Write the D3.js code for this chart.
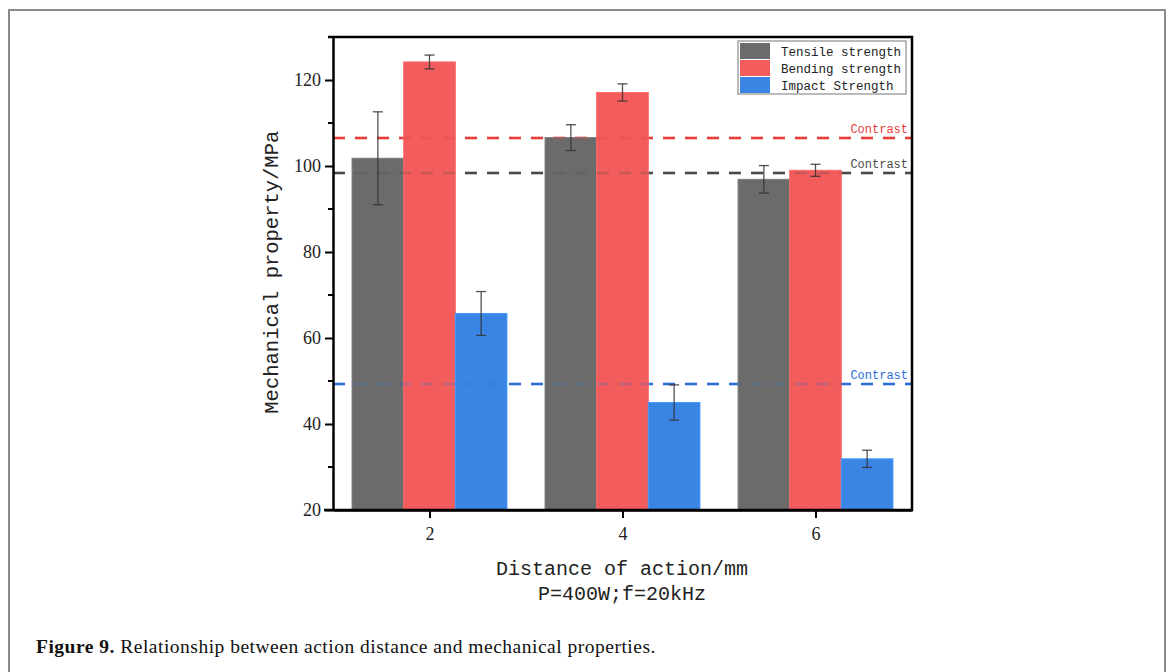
<!DOCTYPE html>
<html>
<head>
<meta charset="utf-8">
<script src="https://cdn.jsdelivr.net/npm/d3@7"></script>
<style>
  body { margin: 0; background: #fff; }
  svg { display: block; }
</style>
</head>
<body>
<div id="chart"></div>
<script>
// data
var distances = [2, 4, 6];
var seriesNames = ["Tensile strength", "Bending strength", "Impact Strength"];
var tensile = [101.8, 106.6, 96.9];
var tensileErr = [10.8, 3.0, 3.2];
var bending = [124.2, 117.1, 99.0];
var bendingErr = [1.6, 2.0, 1.4];
var impact = [65.7, 45.0, 31.9];
var impactErr = [5.1, 4.1, 2.0];
var contrastValues = [106.5, 98.4, 49.3];
var contrastColors = ["#e83c3c", "#4a4a4a", "#2a6fd8"];
var yTicks = [20, 40, 60, 80, 100, 120];
var yMinor = [30, 50, 70, 90, 110];

var colors = ["#6b6b6b", "#f25c5c", "#3a84e3"];
var values = [tensile, bending, impact];
var errors = [tensileErr, bendingErr, impactErr];

var W = 1171, H = 672;
var margin = { top: 37, right: 259, bottom: 162, left: 333 },
    width = W - margin.left - margin.right,
    height = H - margin.top - margin.bottom;

var svg = d3.select("#chart").append("svg")
    .attr("width", W)
    .attr("height", H);

// outer page frame
svg.append("path")
    .attr("d", "M9,680 L9,10 L1165,10 L1165,680")
    .attr("fill", "none")
    .attr("stroke", "#8a8a8a")
    .attr("stroke-width", 2);

var g = svg.append("g")
    .attr("transform", `translate(${margin.left},${margin.top})`);

var x = d3.scaleLinear().domain([1, 7]).range([0, width]);
var y = d3.scaleLinear().domain([20, 130]).range([height, 0]);
var barW = x(1.535) - x(1);

function drawContrast(opacity) {
    g.append("g").selectAll("line")
        .data(contrastValues)
        .enter()
        .append("line")
            .attr("x1", 0)
            .attr("x2", width)
            .attr("y1", d => y(d))
            .attr("y2", d => y(d))
            .attr("stroke", (d, i) => contrastColors[i])
            .attr("stroke-opacity", opacity)
            .attr("stroke-width", 2.5)
            .attr("stroke-dasharray", "12,10");
}

// contrast dashed lines (behind bars)
drawContrast(1);

g.selectAll(".contrastLabel")
    .data(contrastValues)
    .enter()
    .append("text")
        .attr("x", width - 4)
        .attr("y", d => y(d) - 5)
        .attr("text-anchor", "end")
        .style("font-family", "'Liberation Mono', monospace")
        .style("font-size", "12px")
        .attr("fill", (d, i) => contrastColors[i])
        .text("Contrast");

// bars
var barData = [];
values.forEach((arr, s) => {
    arr.forEach((v, i) => {
        barData.push({ s: s, d: distances[i], v: v, e: errors[s][i] });
    });
});

g.selectAll(".bar")
    .data(barData)
    .enter()
    .append("rect")
        .attr("x", d => x(d.d) + (d.s - 1.5) * barW)
        .attr("width", barW)
        .attr("y", d => y(d.v))
        .attr("height", d => y(20) - y(d.v))
        .attr("fill", d => colors[d.s])
        .attr("stroke", d => d3.rgb(colors[d.s]).brighter(0.4))
        .attr("stroke-width", 1);

// faint dashes showing through the bars
drawContrast(0.25);

// error bars
var eb = g.selectAll(".err")
    .data(barData)
    .enter()
    .append("g")
        .attr("transform", d => `translate(${x(d.d) + (d.s - 1) * barW},0)`)
        .attr("stroke", "#333")
        .attr("stroke-opacity", 0.85)
        .attr("stroke-width", 1.3);
eb.append("line")
    .attr("y1", d => y(d.v + d.e))
    .attr("y2", d => y(d.v - d.e));
eb.append("line")
    .attr("x1", -5).attr("x2", 5)
    .attr("y1", d => y(d.v + d.e))
    .attr("y2", d => y(d.v + d.e));
eb.append("line")
    .attr("x1", -5).attr("x2", 5)
    .attr("y1", d => y(d.v - d.e))
    .attr("y2", d => y(d.v - d.e));

// axes
var yAxis = g.append("g")
    .call(d3.axisLeft(y).tickValues(yTicks).tickSize(8).tickSizeOuter(0).tickPadding(4));
yAxis.selectAll("text")
    .style("font-family", "'Liberation Serif', serif")
    .style("font-size", "18px")
    .attr("fill", "#222");
g.append("g")
    .selectAll("line")
    .data(yMinor)
    .enter()
    .append("line")
        .attr("x1", -5).attr("x2", 0)
        .attr("y1", d => y(d)).attr("y2", d => y(d))
        .attr("stroke", "#000").attr("stroke-width", 2);

var xAxis = g.append("g")
    .attr("transform", `translate(0,${height})`)
    .call(d3.axisBottom(x).tickValues(distances).tickFormat(d3.format("d"))
        .tickSize(8).tickSizeOuter(0).tickPadding(9));
xAxis.selectAll("text")
    .style("font-family", "'Liberation Serif', serif")
    .style("font-size", "18px")
    .attr("fill", "#222");

g.selectAll(".domain").attr("stroke-width", 2.5);
g.selectAll(".tick line").attr("stroke-width", 2);

// top and right frame
g.append("path")
    .attr("d", `M-5,0 L${width},0 L${width},${height} L-9,${height}`)
    .attr("fill", "none")
    .attr("stroke", "#000")
    .attr("stroke-width", 2.5);

// axis titles
svg.append("text")
    .attr("transform", `translate(278,${margin.top + y(75.3)}) rotate(-90)`)
    .attr("text-anchor", "middle")
    .style("font-family", "'Liberation Mono', monospace")
    .style("font-size", "20.5px")
    .attr("fill", "#222")
    .text("Mechanical property/MPa");

svg.append("text")
    .attr("x", 622)
    .attr("y", 575)
    .attr("text-anchor", "middle")
    .style("font-family", "'Liberation Mono', monospace")
    .style("font-size", "20px")
    .attr("fill", "#222")
    .text("Distance of action/mm");

svg.append("text")
    .attr("x", 622)
    .attr("y", 600)
    .attr("text-anchor", "middle")
    .style("font-family", "'Liberation Mono', monospace")
    .style("font-size", "20px")
    .attr("fill", "#222")
    .text("P=400W;f=20kHz");

// legend
var legend = g.append("g")
    .attr("transform", `translate(${width - 174},4)`);
legend.append("rect")
    .attr("width", 168)
    .attr("height", 53)
    .attr("fill", "#fff")
    .attr("stroke", "#777")
    .attr("stroke-width", 1);
var items = legend.selectAll(".item")
    .data(seriesNames)
    .enter()
    .append("g")
        .attr("transform", (d, i) => `translate(2,${2 + i * 17})`);
items.append("rect")
    .attr("width", 30)
    .attr("height", 16)
    .attr("fill", (d, i) => colors[i]);
items.append("text")
    .attr("x", 41)
    .attr("y", 12.5)
    .style("font-family", "'Liberation Mono', monospace")
    .style("font-size", "12.5px")
    .attr("fill", "#222")
    .text(d => d);

// caption
var cap = svg.append("text")
    .attr("x", 36)
    .attr("y", 653)
    .style("font-family", "'Liberation Serif', serif")
    .style("font-size", "19.5px")
    .style("letter-spacing", "0.5px")
    .attr("fill", "#111");
cap.append("tspan").style("font-weight", "bold").text("Figure 9.");
cap.append("tspan").text(" Relationship between action distance and mechanical properties.");
</script>
</body>
</html>
